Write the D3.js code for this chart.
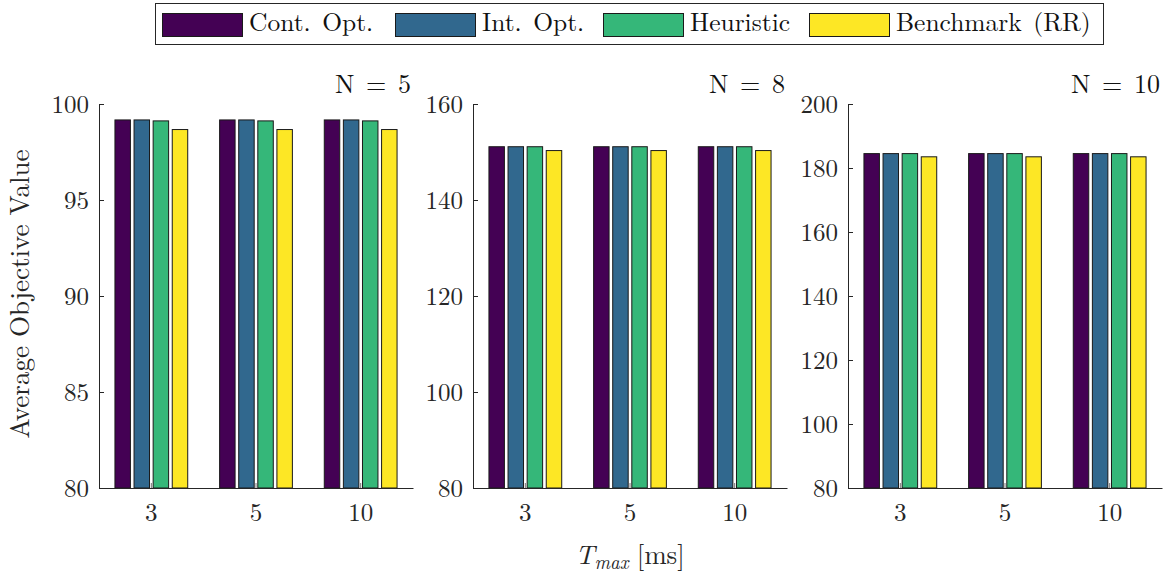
<!DOCTYPE html>
<html>
<head>
<meta charset="utf-8">
<script src="https://cdn.jsdelivr.net/npm/d3@7"></script>
<style>
  body { margin: 0; background: #fff; }
</style>
</head>
<body>
<div id="chart"></div>
<script>
// Data
var categories = ["3", "5", "10"];
var seriesNames = ["Cont. Opt.", "Int. Opt.", "Heuristic", "Benchmark (RR)"];
var seriesColors = ["#440154", "#31688e", "#35b779", "#fde725"];
var panelTitles = ["N = 5", "N = 8", "N = 10"];

// one row per T_max category, one value per series
var valuesN5 = [
  [99.17, 99.17, 99.12, 98.67],
  [99.17, 99.17, 99.12, 98.67],
  [99.17, 99.17, 99.12, 98.67]
];
var valuesN8 = [
  [151.1, 151.1, 151.1, 150.3],
  [151.1, 151.1, 151.1, 150.3],
  [151.1, 151.1, 151.1, 150.3]
];
var valuesN10 = [
  [184.5, 184.5, 184.5, 183.5],
  [184.5, 184.5, 184.5, 183.5],
  [184.5, 184.5, 184.5, 183.5]
];

var yDomains = [[80, 100], [80, 160], [80, 200]];
var yTicksN5 = [80, 85, 90, 95, 100];
var yTicksN8 = [80, 100, 120, 140, 160];
var yTicksN10 = [80, 100, 120, 140, 160, 180, 200];

var panelValues = [valuesN5, valuesN8, valuesN10];
var panelTicks = [yTicksN5, yTicksN8, yTicksN10];

// Layout
var svgWidth = 1170;
var svgHeight = 574;
var panelLeft = [99, 473, 848];
var panelWidth = 314;
var plotTop = 104;
var plotBottom = 488;
var lineColor = "#262626";
var cm = '"Latin Modern Roman", "Liberation Serif", serif';

var svg = d3.select("#chart")
  .append("svg")
  .attr("width", svgWidth)
  .attr("height", svgHeight);

panelValues.forEach(function(values, p) {
  var g = svg.append("g")
    .attr("transform", `translate(${panelLeft[p]}, 0)`);

  var x0 = d3.scaleBand()
    .domain(categories)
    .range([0, panelWidth]);

  // bars occupy ~73% of each category slot, MATLAB-style
  var groupW = x0.bandwidth() * 0.73;
  var x1 = d3.scaleBand()
    .domain(d3.range(seriesNames.length))
    .range([0, groupW])
    .paddingInner(0.19)
    .paddingOuter(0.095);

  var y = d3.scaleLinear()
    .domain(yDomains[p])
    .range([plotBottom, plotTop]);

  var groups = g.selectAll(".cat")
    .data(values)
    .enter()
    .append("g")
    .attr("class", "cat")
    .attr("transform", (d, i) => `translate(${x0(categories[i]) + (x0.bandwidth() - groupW) / 2}, 0)`);

  groups.selectAll("rect")
    .data(d => d)
    .enter()
    .append("rect")
    .attr("x", (d, i) => x1(i))
    .attr("width", x1.bandwidth())
    .attr("y", d => y(d))
    .attr("height", d => y(yDomains[p][0]) - y(d))
    .attr("fill", (d, i) => seriesColors[i])
    .attr("stroke", "#1a1a1a")
    .attr("stroke-width", 1);

  // y axis, ticks pointing inward
  var yAxis = g.append("g")
    .call(d3.axisLeft(y).tickValues(panelTicks[p]).tickSize(-5).tickSizeOuter(0).tickPadding(10));
  yAxis.select(".domain").attr("stroke", lineColor);
  yAxis.selectAll(".tick line").attr("stroke", lineColor);
  yAxis.selectAll("text")
    .style("font-family", cm)
    .style("font-size", "25px")
    .attr("fill", lineColor)
    .attr("dy", "0.33em");

  // x axis
  var xAxis = g.append("g")
    .attr("transform", `translate(0, ${plotBottom})`)
    .call(d3.axisBottom(x0).tickSize(-5).tickSizeOuter(0).tickPadding(15));
  xAxis.select(".domain").attr("stroke", lineColor);
  xAxis.selectAll(".tick line").attr("stroke", "#777");
  xAxis.selectAll("text")
    .style("font-family", cm)
    .style("font-size", "25px")
    .attr("fill", lineColor);

  // panel title
  g.append("text")
    .attr("x", panelWidth - 2)
    .attr("y", 93)
    .attr("text-anchor", "end")
    .style("font-family", cm)
    .style("font-size", "26px")
    .attr("fill", "#111")
    .attr("word-spacing", 3)
    .text(panelTitles[p]);
});

// y axis label
svg.append("text")
  .attr("transform", `translate(29, ${(plotTop + plotBottom) / 2 - 2}) rotate(-90)`)
  .attr("text-anchor", "middle")
  .style("font-family", cm)
  .style("font-size", "27px")
  .attr("fill", lineColor)
  .text("Average Objective Value");

// x axis label: T_max [ms]
var xLabel = svg.append("text")
  .attr("x", panelLeft[1] + panelWidth / 2)
  .attr("y", 564)
  .attr("text-anchor", "middle")
  .style("font-family", cm)
  .style("font-size", "27px")
  .attr("fill", lineColor);
xLabel.append("tspan").attr("font-style", "italic").text("T");
xLabel.append("tspan").attr("font-style", "italic").style("font-size", "19px").attr("dy", 5).attr("dx", 0).text("max");
xLabel.append("tspan").attr("dy", -5).attr("dx", 8).text("[ms]");

// legend
var legendX = [162, 395, 603, 809];
var legend = svg.append("g");
legend.append("rect")
  .attr("x", 155.5)
  .attr("y", 3.5)
  .attr("width", 948)
  .attr("height", 41)
  .attr("fill", "#fff")
  .attr("stroke", lineColor)
  .attr("stroke-width", 1);

var items = legend.selectAll(".item")
  .data(seriesNames)
  .enter()
  .append("g")
  .attr("class", "item")
  .attr("transform", (d, i) => `translate(${legendX[i]}, 0)`);

items.append("rect")
  .attr("x", 0.5)
  .attr("y", 13.5)
  .attr("width", 80)
  .attr("height", 23)
  .attr("fill", (d, i) => seriesColors[i])
  .attr("stroke", "#1a1a1a");

items.append("text")
  .attr("x", 87)
  .attr("y", 31)
  .style("font-family", cm)
  .style("font-size", "25.5px")
  .attr("fill", "#111")
  .attr("word-spacing", 3)
  .text(d => d);
</script>
</body>
</html>
